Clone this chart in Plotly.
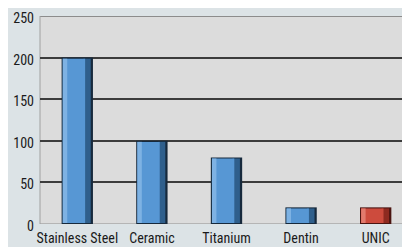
import plotly.graph_objects as go

categories = ["Stainless Steel", "Ceramic", "Titanium", "Dentin", "UNIC"]
values = [200, 100, 80, 20, 20]
y_ticks = [0, 50, 100, 150, 200, 250]

edge = ["#16293c"] * 4 + ["#4a1410"]
shade = ["#2f5f8c"] * 4 + ["#8e2a20"]
face = ["#5797d4"] * 4 + ["#cd4b3d"]
light = ["#7eb2e3"] * 4 + ["#e27a6d"]

FONT = "Liberation Sans Narrow, Arial Narrow, Roboto Condensed, Liberation Sans, sans-serif"

fig = go.Figure()
# dark outline body
fig.add_trace(go.Bar(x=categories, y=values, width=0.42, marker=dict(color=edge, line=dict(width=0)),
                     hoverinfo="skip"))
# right shaded side
fig.add_trace(go.Bar(x=categories, y=[v - 2.5 for v in values], base=[1.2] * len(values),
                     width=0.1, offset=0.08, marker=dict(color=shade, line=dict(width=0)), hoverinfo="skip"))
# main face
fig.add_trace(go.Bar(x=categories, y=[v - 2.5 for v in values], base=[1.2] * len(values),
                     width=0.3, offset=-0.195, marker=dict(color=face, line=dict(width=0)), hoverinfo="skip"))
# left highlight
fig.add_trace(go.Bar(x=categories, y=[v - 2.5 for v in values], base=[1.2] * len(values),
                     width=0.06, offset=-0.195, marker=dict(color=light, line=dict(width=0)), hoverinfo="skip"))

fig.update_layout(
    width=410, height=247,
    margin=dict(l=32, r=8, t=8, b=31),
    paper_bgcolor="#dce3e6",
    plot_bgcolor="#dcdcdc",
    barmode="overlay",
    showlegend=False,
    font=dict(family=FONT, size=14, color="#1a1a1a"),
    xaxis=dict(range=[-0.5, 4.46], showgrid=False, zeroline=False, showline=False, automargin=False,
               ticks="", tickfont=dict(size=14), fixedrange=True, ticklabelstandoff=4),
    yaxis=dict(range=[0, 250], tickvals=y_ticks, showgrid=True, gridcolor="#3c3c3c", gridwidth=2,
               zeroline=False, showline=False, ticks="", tickfont=dict(size=14), fixedrange=True,
               automargin=False, ticklabelstandoff=5, ticklabelshift=2),
    shapes=[
        dict(type="line", xref="paper", yref="y", x0=0, x1=1, y0=250, y1=250,
             line=dict(color="#8c8c8c", width=2), layer="between"),
        dict(type="line", xref="paper", yref="y", x0=0, x1=1, y0=0, y1=0,
             line=dict(color="#a8a8a8", width=1.5), layer="between"),
        dict(type="line", xref="paper", yref="paper", x0=0, x1=0, y0=0, y1=1,
             line=dict(color="#a0a0a0", width=1), layer="between"),
    ],
)

fig.write_html("out.html")
